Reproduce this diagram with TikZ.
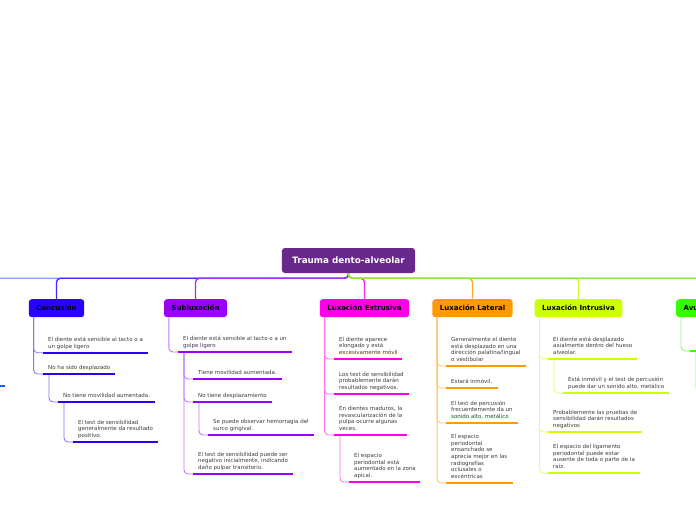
\documentclass[tikz,border=0pt]{standalone}
\usepackage{fontspec}
\setmainfont{DejaVu Sans}
\definecolor{rootpurple}{RGB}{104,40,140}
\definecolor{concblue}{RGB}{43,0,255}
\definecolor{subviolet}{RGB}{153,0,255}
\definecolor{extmagenta}{RGB}{255,0,230}
\definecolor{latorange}{RGB}{255,153,0}
\definecolor{intrlime}{RGB}{204,255,0}
\definecolor{avugreen}{RGB}{51,255,0}
\definecolor{offblue}{RGB}{110,150,255}
\definecolor{offdeepblue}{RGB}{26,92,255}
\definecolor{offgreen}{RGB}{130,225,40}
\definecolor{leaftext}{RGB}{60,60,60}

\begin{document}
\begin{tikzpicture}[
        x=1pt, y=-1pt,
        central/.style={rectangle, fill=rootpurple, text=white, rounded corners=3pt,
            minimum height=25pt, inner xsep=10.5pt, font=\fontsize{8.8}{10}\selectfont\bfseries},
        topic/.style={rectangle, fill=#1, rounded corners=3pt, anchor=north,
            minimum height=18pt, inner xsep=7.5pt, font=\fontsize{7}{8}\selectfont\bfseries},
        leaf/.style={anchor=south west, align=left, inner xsep=5pt, inner ysep=2.5pt,
            text=leaftext, font=\fontsize{5.5}{6.6}\selectfont, execute at end node=\strut},
        branch/.style={line width=1.4pt, rounded corners=4pt, draw=#1!85},
        link/.style={line width=0.9pt, rounded corners=4pt, draw=#1!55},
        uline/.style={line width=2.2pt, draw=#1}
    ]
    \fill[white] (0,0) rectangle (696,520);
    \useasboundingbox (0,0) rectangle (696,520);
    \clip (0,0) rectangle (696,520);

    % root and main topics
    \node[central] (root) at (348.5,260.5) {Trauma dento-alveolar};
    \node[topic=concblue] (conc) at (56.5,299) {Concusión};
    \node[topic=subviolet] (sub) at (195.5,299) {Subluxación};
    \node[topic=extmagenta] (ext) at (364.5,299) {Luxación Extrusiva};
    \node[topic=latorange] (lat) at (472.5,299) {Luxación Lateral};
    \node[topic=intrlime] (intr) at (578.5,299) {Luxación Intrusiva};
    \node[topic=avugreen, anchor=north west] (avu) at (676,299) {Avulsión};
    \coordinate (offL) at (-60,300);
    \coordinate (offR) at (760,300);

    \draw[branch=offblue] (root.south) -- ++(0,5) -| (offL);
    \draw[branch=concblue] (root.south) -- ++(0,5) -| (conc.north);
    \draw[branch=subviolet] (root.south) -- ++(0,5) -| (sub.north);
    \draw[branch=extmagenta] (root.south) -- ++(0,5) -| (ext.north);
    \draw[branch=latorange] (root.south) -- ++(0,5) -| (lat.north);
    \draw[branch=intrlime] (root.south) -- ++(0,5) -| (intr.north);
    \draw[branch=avugreen] (root.south) -- ++(0,5) -| (avu.north);
    \draw[branch=offgreen] (root.south) -- ++(0,5) -| (offR);

    % Concusion
    \node[leaf] (c1) at (43,352.7) {El diente está sensible al tacto o a\\un golpe ligero};
    \node[leaf] (c2) at (43,374) {No ha sido desplazado};
    \node[leaf] (c21) at (58,402) {No tiene movilidad aumentada.};
    \node[leaf] (c211) at (73,442) {El test de sensibilidad\\generalmente da resultado\\positivo.};
    \draw[link=concblue] ([xshift=5pt]conc.south west) |- (c1.south west);
    \draw[link=concblue] ([xshift=5pt]conc.south west) |- (c2.south west);
    \draw[link=concblue] ([xshift=6pt]c2.south west) |- (c21.south west);
    \draw[link=concblue] ([xshift=6pt]c21.south west) |- (c211.south west);
    \draw[uline=concblue] (c1.south west) -- ++(105,0);
    \draw[uline=concblue] (c2.south west) -- ++(72,0);
    \draw[uline=concblue] (c21.south west) -- ++(97,0);
    \draw[uline=concblue] (c211.south west) -- ++(85,0);

    % Subluxacion
    \node[leaf] (s1) at (178,352) {El diente está sensible al tacto o a un\\golpe ligero};
    \node[leaf] (s11) at (193,379) {Tiene movilidad aumentada.};
    \node[leaf] (s12) at (193,402) {No tiene desplazamiento};
    \node[leaf] (s121) at (208,435) {Se puede observar hemorragia del\\surco gingival.};
    \node[leaf] (s13) at (193,474) {El test de sensibilidad puede ser\\negativo inicialmente, indicando\\daño pulpar transitorio.};
    \draw[link=subviolet] ([xshift=5pt]sub.south west) |- (s1.south west);
    \draw[link=subviolet] ([xshift=6pt]s1.south west) |- (s11.south west);
    \draw[link=subviolet] ([xshift=6pt]s1.south west) |- (s12.south west);
    \draw[link=subviolet] ([xshift=6pt]s12.south west) |- (s121.south west);
    \draw[link=subviolet] ([xshift=6pt]s1.south west) |- (s13.south west);
    \draw[uline=subviolet] (s1.south west) -- ++(114,0);
    \draw[uline=subviolet] (s11.south west) -- ++(89,0);
    \draw[uline=subviolet] (s12.south west) -- ++(79,0);
    \draw[uline=subviolet] (s121.south west) -- ++(106,0);
    \draw[uline=subviolet] (s13.south west) -- ++(100,0);

    % Luxacion Extrusiva
    \node[leaf] (e1) at (334,359) {El diente aparece\\elongado y está\\excesivamente móvil};
    \node[leaf] (e2) at (334,394) {Los test de sensibilidad\\probablemente darán\\resultados negativos.};
    \node[leaf] (e3) at (334,435) {En dientes maduros, la\\revascularización de la\\pulpa ocurre algunas\\veces.};
    \node[leaf] (e31) at (349,482) {El espacio\\periodontal está\\aumentado en la zona\\apical.};
    \draw[link=extmagenta] ([xshift=5pt]ext.south west) |- (e1.south west);
    \draw[link=extmagenta] ([xshift=5pt]ext.south west) |- (e2.south west);
    \draw[link=extmagenta] ([xshift=5pt]ext.south west) |- (e3.south west);
    \draw[link=extmagenta] ([xshift=6pt]e3.south west) |- (e31.south west);
    \draw[uline=extmagenta] (e1.south west) -- ++(68,0);
    \draw[uline=extmagenta] (e2.south west) -- ++(75,0);
    \draw[uline=extmagenta] (e3.south west) -- ++(73,0);
    \draw[uline=extmagenta] (e31.south west) -- ++(71,0);

    % Luxacion Lateral
    \node[leaf] (l1) at (446,366) {Generalmente el diente\\está desplazado en una\\dirección palatina/lingual\\o vestibular};
    \node[leaf] (l2) at (446,388) {Estará inmóvil.};
    \node[leaf] (l3) at (446,423) {El test de percusión\\frecuentemente da un\\sonido alto, metálico};
    \node[leaf] (l4) at (446,483) {El espacio\\periodontal\\ensanchado se\\aprecia mejor en las\\radiografías\\oclusales o\\excéntricas};
    \draw[link=latorange] ([xshift=5pt]lat.south west) |- (l1.south west);
    \draw[link=latorange] ([xshift=5pt]lat.south west) |- (l2.south west);
    \draw[link=latorange] ([xshift=5pt]lat.south west) |- (l3.south west);
    \draw[link=latorange] ([xshift=5pt]lat.south west) |- (l4.south west);
    \draw[uline=latorange] (l1.south west) -- ++(80,0);
    \draw[uline=latorange] (l2.south west) -- ++(52,0);
    \draw[uline=latorange] (l3.south west) -- ++(72,0);
    \draw[uline=latorange] (l4.south west) -- ++(67,0);

    % Luxacion Intrusiva
    \node[leaf] (i1) at (548,359) {El diente está desplazado\\axialmente dentro del hueso\\alveolar.};
    \node[leaf] (i11) at (563,393) {Está inmóvil y el test de percusión\\puede dar un sonido alto, metálico};
    \node[leaf] (i2) at (548,432) {Probablemente las pruebas de\\sensibilidad darán resultados\\negativos};
    \node[leaf] (i3) at (548,473) {El espacio del ligamento\\periodontal puede estar\\ausente de toda o parte de la\\raíz.};
    \draw[link=intrlime] ([xshift=5pt]intr.south west) |- (i1.south west);
    \draw[link=intrlime] ([xshift=6pt]i1.south west) |- (i11.south west);
    \draw[link=intrlime] ([xshift=5pt]intr.south west) |- (i2.south west);
    \draw[link=intrlime] ([xshift=5pt]intr.south west) |- (i3.south west);
    \draw[uline=intrlime] (i1.south west) -- ++(89,0);
    \draw[uline=intrlime] (i11.south west) -- ++(106,0);
    \draw[uline=intrlime] (i2.south west) -- ++(94,0);
    \draw[uline=intrlime] (i3.south west) -- ++(92,0);

    % Avulsion (cut at the edge)
    \coordinate (a1) at (690,351);
    \coordinate (a11) at (705,392);
    \draw[link=avugreen] ([xshift=5pt]avu.south west) |- (a1);
    \draw[link=avugreen] ([xshift=6pt]a1) |- (a11);
    \draw[uline=avugreen] (a1) -- ++(60,0);

    % child of the topic beyond the left edge
    \coordinate (l0) at (-50,386);
    \draw[uline=offdeepblue] (l0) -- ++(55,0);
\end{tikzpicture}
\end{document}
